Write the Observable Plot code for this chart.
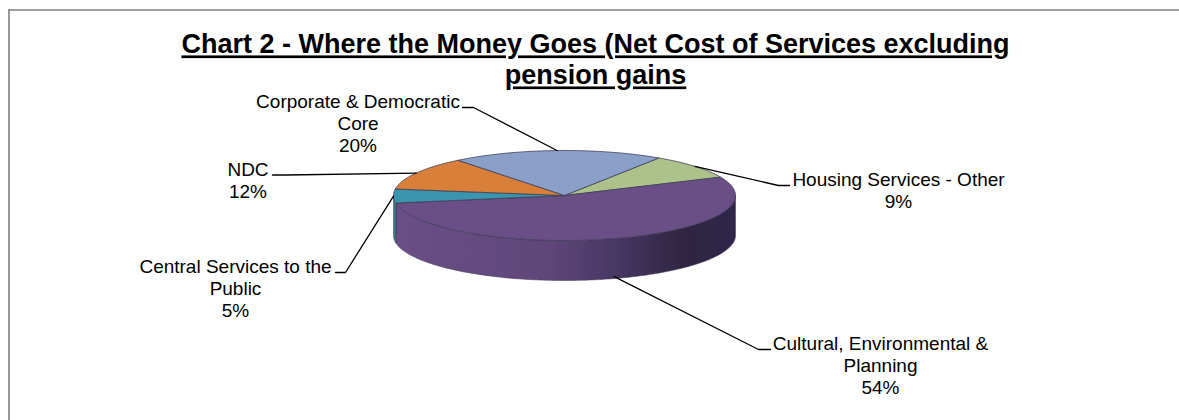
<!DOCTYPE html>
<html>
<head>
<meta charset="utf-8">
<script src="https://cdn.jsdelivr.net/npm/d3@7"></script>
<script src="https://cdn.jsdelivr.net/npm/@observablehq/plot@0.6"></script>
<style>
  html, body { margin: 0; background: #fff; }
  .chart-title text { text-decoration: underline; }
</style>
</head>
<body>
<div id="chart"></div>
<script>
// Net cost of services by category, in percent, clockwise from the first slice.
const categories = [
  "Housing Services - Other",
  "Cultural, Environmental &\nPlanning",
  "Central Services to the\nPublic",
  "NDC",
  "Corporate & Democratic\nCore"
];
const shares = [9, 54, 5, 12, 20];
const topColors = ["#adc18a", "#6a4f87", "#3a94ad", "#d8803a", "#8aa0c9"];
const wallColors = ["#7d8c60", "url(#wall-shade)", "#2f7d92", "#a8602a", "#64749a"];

// Where each label block is centred and the two points its leader runs through.
const labelX = [898, 880, 235, 247.5, 357.5];
const labelY = [189.5, 364, 287, 179.5, 122];
const leaderFrom = [[789, 185], [770, 349], [335, 272], [272, 174.5], [462, 107]];
const leaderElbow = [[778, 185], [758, 349], [345, 272], [285, 174.5], [473, 107]];

const titleText = "Chart 2 - Where the Money Goes (Net Cost of Services excluding\npension gains";

// Tilted pie geometry.
const cx = 564, cy = 195, rx = 171, ry = 45, depth = 40;
const firstAngle = 33.5 * Math.PI / 180;
const step = Math.PI / 180;

const rim = (a, drop = 0) => ({x: cx + rx * Math.sin(a), y: cy - ry * Math.cos(a) + drop});

const slices = d3.pie().sort(null)
  .startAngle(firstAngle)
  .endAngle(firstAngle + 2 * Math.PI)(shares);

function arc(a0, a1, drop = 0) {
  const n = Math.max(1, Math.ceil((a1 - a0) / step));
  return d3.range(n + 1).map((i) => rim(a0 + (a1 - a0) * i / n, drop));
}

function topFace(s) {
  const centre = {x: cx, y: cy};
  return [centre, ...arc(s.startAngle, s.endAngle), centre];
}

// The visible wall is the front half of the rim, from 90 to 270 degrees.
function wall(s) {
  const a0 = Math.max(s.startAngle, Math.PI / 2);
  const a1 = Math.min(s.endAngle, 3 * Math.PI / 2);
  if (a1 <= a0) return null;
  const upper = arc(a0, a1);
  return [...upper, ...arc(a0, a1, depth).reverse(), upper[0]];
}

const wallShade = () => {
  const defs = d3.create("svg:defs");
  const g = defs.append("linearGradient").attr("id", "wall-shade");
  [[0, "#6a4e86"], [0.45, "#5f4779"], [0.65, "#473763"], [0.85, "#2f2541"], [1, "#30264a"]]
    .forEach(([o, c]) => g.append("stop").attr("offset", o).attr("stop-color", c));
  return defs.node();
};

const leaders = slices.map((s, i) => {
  const mid = (s.startAngle + s.endAngle) / 2;
  // Slices facing the viewer attach at the bottom of the wall.
  const front = Math.cos(mid) < -0.5;
  const end = rim(mid, front ? depth - 2 : 0);
  const [x0, y0] = leaderFrom[i], [x1, y1] = leaderElbow[i];
  return [{x: x0, y: y0}, {x: x1, y: y1}, end];
});

const chart = Plot.plot({
  width: 1179,
  height: 420,
  margin: 0,
  x: {type: "identity", axis: null},
  y: {type: "identity", axis: null},
  marks: [
    wallShade,
    Plot.ruleY([9.5], {x1: 9, x2: 1179, stroke: "#808080", strokeWidth: 1.6}),
    Plot.ruleX([8.5], {y1: 9, y2: 420, stroke: "#808080", strokeWidth: 1.6}),
    ...slices.map((s, i) => {
      const pts = wall(s);
      return pts ? Plot.line(pts, {x: "x", y: "y", fill: wallColors[i], stroke: "#3d3350", strokeWidth: 0.5}) : null;
    }),
    ...slices.map((s, i) => Plot.line(topFace(s), {
      x: "x", y: "y", fill: topColors[i], stroke: "#3c3a55", strokeWidth: 0.9, strokeOpacity: 0.85
    })),
    ...leaders.map((pts) => Plot.line(pts, {x: "x", y: "y", stroke: "#000", strokeWidth: 1.3})),
    Plot.text(categories.map((c, i) => `${c}\n${shares[i]}%`), {
      x: (_, i) => labelX[i],
      y: (_, i) => labelY[i],
      text: (d) => d,
      lineAnchor: "middle",
      textAnchor: "middle",
      lineHeight: 1.16,
      fontSize: 19,
      fontFamily: "Liberation Sans",
      fill: "#000"
    }),
    Plot.text([titleText], {
      x: () => 595,
      y: () => 58.5,
      text: (d) => d,
      lineAnchor: "middle",
      textAnchor: "middle",
      lineHeight: 1.15,
      fontSize: 27,
      fontWeight: "bold",
      fontFamily: "Liberation Sans",
      fill: "#000",
      className: "chart-title"
    })
  ]
});

document.getElementById("chart").append(chart);
</script>
</body>
</html>
